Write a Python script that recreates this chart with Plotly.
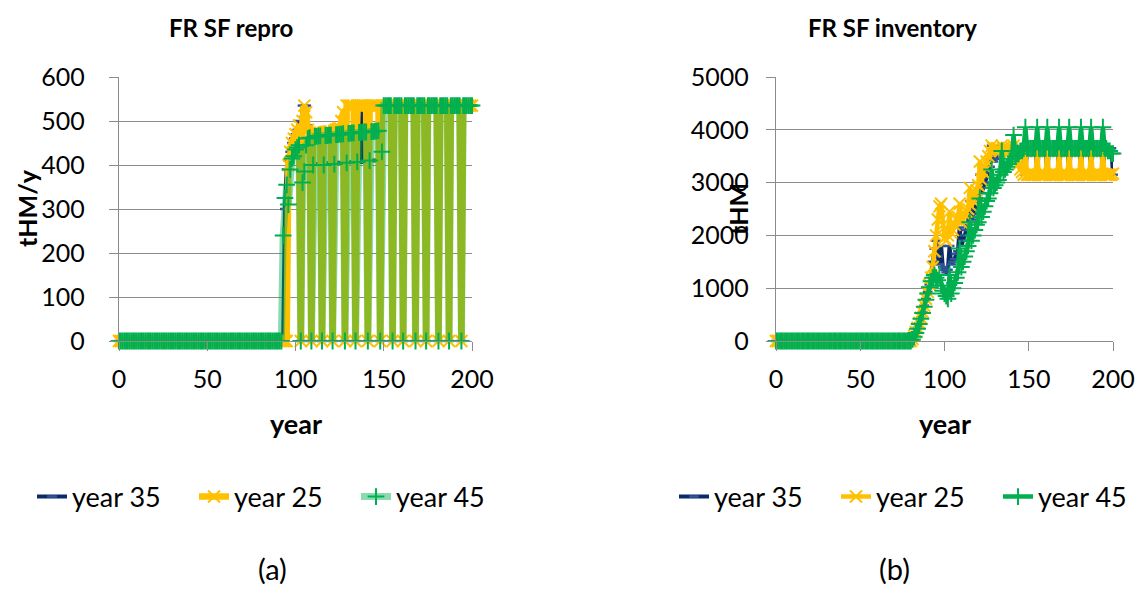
import plotly.graph_objects as go

# ---- data -------------------------------------------------------------
years = list(range(0, 201))

# FR SF repro (tHM/y)
repro_35 = [
    0, 0, 0, 0, 0, 0, 0, 0, 0, 0, 0, 0, 0, 0, 0, 0, 0, 0, 0, 0,
    0, 0, 0, 0, 0, 0, 0, 0, 0, 0, 0, 0, 0, 0, 0, 0, 0, 0, 0, 0,
    0, 0, 0, 0, 0, 0, 0, 0, 0, 0, 0, 0, 0, 0, 0, 0, 0, 0, 0, 0,
    0, 0, 0, 0, 0, 0, 0, 0, 0, 0, 0, 0, 0, 0, 0, 0, 0, 0, 0, 0,
    0, 0, 0, 0, 0, 0, 0, 0, 0, 0,
    0, 0, 0, 0, 300, 390, 410, 430, 450, 460,
    470, 480, 500, 0, 535, 510, 535, 490, 460, 0,
    400, 402, 402, 403, 403, 0, 403, 404, 404, 404,
    404, 0, 405, 405, 405, 405, 405, 405, 0, 406,
    406, 406, 406, 406, 0, 407, 407, 407, 535, 408,
    408, 0, 410, 410, 410, 410, 410, 410, 0, 535,
    535, 535, 535, 535, 535, 0, 535, 535, 535, 535,
    535, 0, 535, 535, 535, 535, 535, 535, 0, 535,
    535, 535, 535, 535, 0, 535, 535, 535, 535, 535,
    535, 0, 535, 535, 535, 535, 535, 0, 535, 535,
    535, 535, 535, 535, 0, 535, 535, 535, 535, 535,
    535,
]
repro_25 = [
    0, 0, 0, 0, 0, 0, 0, 0, 0, 0, 0, 0, 0, 0, 0, 0, 0, 0, 0, 0,
    0, 0, 0, 0, 0, 0, 0, 0, 0, 0, 0, 0, 0, 0, 0, 0, 0, 0, 0, 0,
    0, 0, 0, 0, 0, 0, 0, 0, 0, 0, 0, 0, 0, 0, 0, 0, 0, 0, 0, 0,
    0, 0, 0, 0, 0, 0, 0, 0, 0, 0, 0, 0, 0, 0, 0, 0, 0, 0, 0, 0,
    0, 0, 0, 0, 0, 0, 0, 0, 0, 0,
    0, 0, 0, 0, 0, 0, 400, 430, 450, 460,
    470, 480, 490, 0, 500, 535, 520, 480, 470, 0,
    470, 470, 472, 472, 474, 0, 474, 475, 475, 476,
    476, 0, 478, 480, 482, 484, 500, 520, 0, 535,
    535, 535, 535, 535, 0, 535, 535, 535, 535, 535,
    535, 0, 535, 535, 535, 535, 535, 535, 0, 535,
    535, 535, 535, 535, 535, 0, 535, 535, 535, 535,
    535, 0, 535, 535, 535, 535, 535, 535, 0, 535,
    535, 535, 535, 535, 0, 535, 535, 535, 535, 535,
    535, 0, 535, 535, 535, 535, 535, 0, 535, 535,
    535, 535, 535, 535, 0, 535, 535, 535, 535, 535,
    535,
]
repro_45 = [
    0, 0, 0, 0, 0, 0, 0, 0, 0, 0, 0, 0, 0, 0, 0, 0, 0, 0, 0, 0,
    0, 0, 0, 0, 0, 0, 0, 0, 0, 0, 0, 0, 0, 0, 0, 0, 0, 0, 0, 0,
    0, 0, 0, 0, 0, 0, 0, 0, 0, 0, 0, 0, 0, 0, 0, 0, 0, 0, 0, 0,
    0, 0, 0, 0, 0, 0, 0, 0, 0, 0, 0, 0, 0, 0, 0, 0, 0, 0, 0, 0,
    0, 0, 0, 0, 0, 0, 0, 0, 0, 0,
    0, 0, 0, 240, 325, 355, 310, 390, 415, 420,
    435, 440, 445, 0, 360, 385, 445, 460, 462, 0,
    400, 465, 465, 466, 466, 0, 400, 467, 467, 468,
    468, 0, 402, 469, 469, 470, 470, 471, 0, 405,
    472, 472, 473, 473, 0, 407, 474, 474, 475, 475,
    475, 0, 410, 476, 476, 477, 477, 478, 0, 430,
    535, 535, 535, 535, 535, 0, 535, 535, 535, 535,
    535, 0, 535, 535, 535, 535, 535, 535, 0, 535,
    535, 535, 535, 535, 0, 535, 535, 535, 535, 535,
    535, 0, 535, 535, 535, 535, 535, 0, 535, 535,
    535, 535, 535, 535, 0, 535, 535, 535, 535, 535,
    535,
]

# FR SF inventory (tHM)
inv_35 = [
    0, 0, 0, 0, 0, 0, 0, 0, 0, 0, 0, 0, 0, 0, 0, 0, 0, 0, 0, 0,
    0, 0, 0, 0, 0, 0, 0, 0, 0, 0, 0, 0, 0, 0, 0, 0, 0, 0, 0, 0,
    0, 0, 0, 0, 0, 0, 0, 0, 0, 0, 0, 0, 0, 0, 0, 0, 0, 0, 0, 0,
    0, 0, 0, 0, 0, 0, 0, 0, 0, 0, 0, 0, 0, 0, 0, 0, 0, 0, 0, 0,
    0, 40, 100, 170, 250, 340, 440, 550, 670, 800,
    930, 1070, 1250, 1500, 1750, 1900, 1600, 1450, 1800, 1400,
    1350, 1300, 1350, 1800, 1450, 1500, 1550, 1650, 1700, 2150,
    1800, 1900, 2000, 2100, 2200, 2650, 2300, 2400, 2500, 2600,
    2700, 3150, 2800, 2900, 3000, 3100, 3200, 3300, 3700, 3400,
    3450, 3500, 3550, 3600, 3700, 3650, 3650, 3650, 3650, 3650,
    3650, 3700, 3650, 3650, 3650, 3650, 3650, 3650, 3150, 3650,
    3650, 3650, 3650, 3650, 3650, 3150, 3650, 3650, 3650, 3650,
    3650, 3150, 3650, 3650, 3650, 3650, 3650, 3650, 3150, 3650,
    3650, 3650, 3650, 3650, 3150, 3650, 3650, 3650, 3650, 3650,
    3650, 3150, 3650, 3650, 3650, 3650, 3650, 3150, 3650, 3650,
    3650, 3650, 3650, 3650, 3150, 3650, 3650, 3650, 3650, 3650,
    3150,
]
inv_25 = [
    0, 0, 0, 0, 0, 0, 0, 0, 0, 0, 0, 0, 0, 0, 0, 0, 0, 0, 0, 0,
    0, 0, 0, 0, 0, 0, 0, 0, 0, 0, 0, 0, 0, 0, 0, 0, 0, 0, 0, 0,
    0, 0, 0, 0, 0, 0, 0, 0, 0, 0, 0, 0, 0, 0, 0, 0, 0, 0, 0, 0,
    0, 0, 0, 0, 0, 0, 0, 0, 0, 0, 0, 0, 0, 0, 0, 0, 0, 0, 0, 0,
    0, 40, 100, 170, 250, 340, 440, 550, 670, 800,
    930, 1070, 1200, 1400, 1700, 2000, 2300, 2550, 2600, 2200,
    1950, 1900, 2000, 2450, 2050, 2100, 2200, 2300, 2350, 2600,
    2250, 2300, 2400, 2450, 2500, 2900, 2550, 2650, 2750, 2850,
    2950, 3400, 3050, 3200, 3300, 3400, 3500, 3600, 3700, 3650,
    3600, 3650, 3650, 3600, 3700, 3650, 3600, 3650, 3650, 3600,
    3650, 3700, 3550, 3450, 3350, 3250, 3200, 3150, 3600, 3150,
    3150, 3150, 3150, 3150, 3150, 3600, 3150, 3150, 3150, 3150,
    3150, 3600, 3150, 3150, 3150, 3150, 3150, 3150, 3600, 3150,
    3150, 3150, 3150, 3150, 3600, 3150, 3150, 3150, 3150, 3150,
    3150, 3600, 3150, 3150, 3150, 3150, 3150, 3600, 3150, 3150,
    3150, 3150, 3150, 3150, 3600, 3150, 3150, 3150, 3150, 3150,
    3170,
]
inv_45 = [
    0, 0, 0, 0, 0, 0, 0, 0, 0, 0, 0, 0, 0, 0, 0, 0, 0, 0, 0, 0,
    0, 0, 0, 0, 0, 0, 0, 0, 0, 0, 0, 0, 0, 0, 0, 0, 0, 0, 0, 0,
    0, 0, 0, 0, 0, 0, 0, 0, 0, 0, 0, 0, 0, 0, 0, 0, 0, 0, 0, 0,
    0, 0, 0, 0, 0, 0, 0, 0, 0, 0, 0, 0, 0, 0, 0, 0, 0, 0, 0, 0,
    0, 30, 80, 150, 230, 320, 420, 530, 650, 780,
    900, 1020, 1130, 1200, 1250, 1200, 1150, 1250, 1050, 950,
    900, 850, 800, 1250, 900, 1000, 1100, 1200, 1300, 1750,
    1400, 1500, 1600, 1700, 1800, 2250, 1900, 2000, 2100, 2200,
    2250, 2700, 2350, 2450, 2550, 2650, 2700, 2800, 3250, 2900,
    2950, 3000, 3050, 3150, 3600, 3200, 3250, 3300, 3350, 3400,
    3450, 3900, 3500, 3550, 3550, 3600, 3600, 3650, 4050, 3650,
    3650, 3650, 3650, 3650, 3650, 4050, 3650, 3650, 3650, 3650,
    3650, 4050, 3650, 3650, 3650, 3650, 3650, 3650, 4050, 3650,
    3650, 3650, 3650, 3650, 4050, 3650, 3650, 3650, 3650, 3650,
    3650, 4050, 3650, 3650, 3650, 3650, 3650, 4050, 3650, 3650,
    3650, 3650, 3650, 3650, 4050, 3650, 3650, 3600, 3600, 3550,
    3550,
]

x_ticks = [0, 50, 100, 150, 200]

# ---- styles -----------------------------------------------------------
NAVY = "#0c2a66"
NAVY_MARK = "#2f5597"
YELLOW = "#ffc000"
GREEN = "#00b050"
GREEN_SOFT = "rgba(0,176,80,0.45)"
GRID = "#8c8c8c"
FONT = "Lato"

# the page has an 8px body margin, so the figure is placed 8px in
OFF = 8
W, H = 1144 - OFF, 610 - OFF


def px_x(v):
    return (v - OFF) / W


def px_y(v):
    return 1 - (v - OFF) / H


fig = go.Figure()


def add_series(y, name, line_color, symbol, mark_color, msize, lw, xa, ya, legend):
    fig.add_trace(
        go.Scatter(
            x=years, y=y, name=name, mode="lines+markers",
            line=dict(color=line_color, width=lw),
            marker=dict(symbol=symbol, size=msize, color=mark_color,
                        line=dict(color=mark_color, width=2.5 if symbol == "line-ew" else 2)),
            xaxis=xa, yaxis=ya, legend=legend, cliponaxis=False,
        )
    )


# left panel
add_series(repro_35, "year 35", NAVY, "line-ew", NAVY_MARK, 7, 4, "x", "y", "legend")
add_series(repro_25, "year 25", YELLOW, "x-thin", YELLOW, 12, 6.5, "x", "y", "legend")
add_series(repro_45, "year 45", GREEN_SOFT, "cross-thin", GREEN, 12, 7, "x", "y", "legend")

# right panel
add_series(inv_35, "year 35", NAVY, "line-ew", NAVY_MARK, 7, 4, "x2", "y2", "legend2")
add_series(inv_25, "year 25", YELLOW, "x-thin", YELLOW, 12, 4.5, "x2", "y2", "legend2")
add_series(inv_45, "year 45", GREEN, "cross-thin", GREEN, 12, 4.5, "x2", "y2", "legend2")

xaxis_style = dict(
    range=[0, 200], tickvals=x_ticks, ticks="outside", ticklen=9, tickwidth=1.3,
    tickcolor=GRID, showline=True, linecolor=GRID, linewidth=1.3, automargin=False,
    showgrid=False, zeroline=False, tickfont=dict(size=25), ticklabelstandoff=7,
)
yaxis_style = dict(
    ticks="outside", ticklen=9, tickwidth=1.3, tickcolor=GRID, automargin=False,
    showline=True, linecolor=GRID, linewidth=1.3,
    showgrid=True, gridcolor=GRID, gridwidth=1.3, zeroline=False,
    tickfont=dict(size=25),
)

legend_style = dict(orientation="h", xanchor="left", yanchor="middle",
                    font=dict(size=27), bgcolor="rgba(0,0,0,0)", itemwidth=30,
                    entrywidth=117, entrywidthmode="pixels")

fig.update_layout(
    template="none",
    width=W, height=H,
    margin=dict(l=0, r=0, t=0, b=0, autoexpand=False),
    paper_bgcolor="white", plot_bgcolor="white",
    font=dict(family=FONT, size=25, color="black"),
    xaxis=dict(domain=[px_x(119), px_x(472)], anchor="y", **xaxis_style),
    yaxis=dict(domain=[px_y(341), px_y(77)], anchor="x", range=[0, 600], dtick=100,
               ticklabelstandoff=19, **yaxis_style),
    xaxis2=dict(domain=[px_x(776), px_x(1113)], anchor="y2", **xaxis_style),
    yaxis2=dict(domain=[px_y(341), px_y(77)], anchor="x2", range=[0, 5000], dtick=1000,
                ticklabelstandoff=12, **yaxis_style),
    legend=dict(x=px_x(32), y=px_y(497), **legend_style),
    legend2=dict(x=px_x(674), y=px_y(497), **legend_style),
    showlegend=True,
)

texts = [
    ("FR SF repro", 231, 27, 24, True, 0),
    ("FR SF inventory", 892, 27, 24, True, 0),
    ("tHM/y", 27, 208, 25, True, -90),
    ("tHM", 738, 209, 25, True, -90),
    ("year", 296, 423, 27, True, 0),
    ("year", 945, 423, 27, True, 0),
    ("(a)", 272, 568, 29, False, 0),
    ("(b)", 894, 568, 29, False, 0),
]
for text, tx, ty, size, bold, angle in texts:
    fig.add_annotation(
        x=px_x(tx), y=px_y(ty), xref="paper", yref="paper",
        text=f"<b>{text}</b>" if bold else text, showarrow=False,
        textangle=angle, font=dict(size=size, family=FONT, color="black"),
        xanchor="center", yanchor="middle",
    )

fig.write_html("out.html")
